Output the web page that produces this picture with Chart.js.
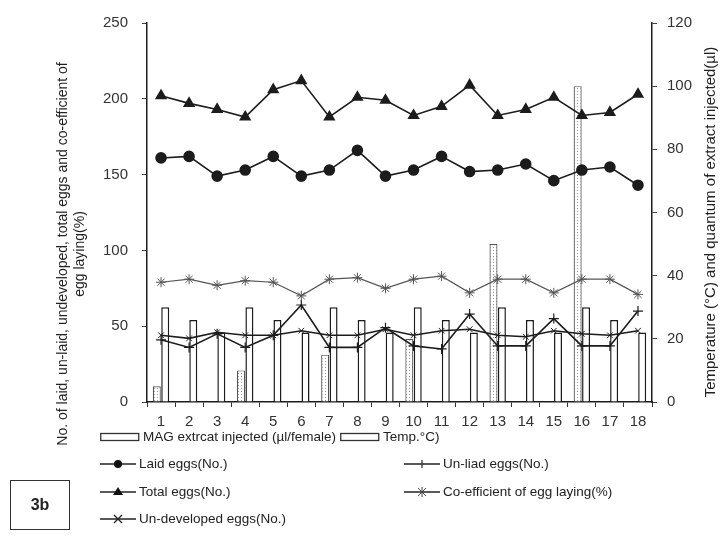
<!DOCTYPE html>
<html><head><meta charset="utf-8">
<script src="https://cdn.jsdelivr.net/npm/chart.js@4.4.0/dist/chart.umd.min.js"></script>
<style>
html,body{margin:0;padding:0;background:#fff;}
#wrap{position:relative;width:723px;height:536px;overflow:hidden;}
#c{position:absolute;left:0;top:0;}
.lg{position:absolute;font-family:"Liberation Sans",Arial,sans-serif;font-size:13.5px;color:#222;white-space:nowrap;height:20px;line-height:20px;}
.lg svg{position:absolute;left:0;top:0;}
.lg span{position:absolute;top:0;}
#box3b{position:absolute;left:10px;top:480px;width:60px;height:50px;border:1.5px solid #333;box-sizing:border-box;font-family:"Liberation Sans",Arial,sans-serif;font-weight:bold;font-size:16px;color:#222;text-align:center;line-height:47px;}
</style></head>
<body>
<div id="wrap">
<canvas id="c" width="723" height="536"></canvas>
<div id="legend"></div>
<div id="box3b">3b</div>
</div>
<script>
// ---- data ----
const categories = ['1','2','3','4','5','6','7','8','9','10','11','12','13','14','15','16','17','18'];
const magInjected = [5,null,null,10,null,null,15,null,null,20,null,null,50,null,null,100,null,null];
const temperature = [30,26,22,30,26,22,30,26,22,30,26,22,30,26,22,30,26,22];
const laidEggs = [161,162,149,153,162,149,153,166,149,153,162,152,153,157,146,153,155,143];
const unlaidEggs = [41,36,45,36,44,64,36,36,49,37,35,58,37,37,55,37,37,60];
const totalEggs = [202,197,193,188,206,212,188,201,199,189,195,209,189,193,201,189,191,203];
const coefficient = [79,81,77,80,79,70,81,82,75,81,83,72,81,81,72,81,81,71];
const undevelopedEggs = [44,42,46,44,44,47,44,44,48,44,47,48,44,43,47,45,44,47];
const leftTicks = [0,50,100,150,200,250];
const rightTicks = [0,20,40,60,80,100,120];
const seriesNames = {
  mag:'MAG extrcat injected (\u00b5l/female)',
  temp:'Temp.\u00b0C)',
  laid:'Laid eggs(No.)',
  unlaid:'Un-liad eggs(No.)',
  total:'Total eggs(No.)',
  coef:'Co-efficient of egg laying(%)',
  undev:'Un-developed eggs(No.)'
};
const leftTitle = ['No. of laid, un-laid, undeveloped, total eggs and co-efficient of','egg laying(%)'];
const rightTitle = 'Temperature (\u00b0C) and quantum of extract injected(\u00b5l)';

// ---- style ----
const FONT = '"Liberation Sans", Arial, sans-serif';
const INK = '#1c1c1c';
const pc = document.createElement('canvas'); pc.width = 3; pc.height = 3;
const px = pc.getContext('2d'); px.fillStyle = '#fff'; px.fillRect(0,0,3,3);
px.fillStyle = '#9a9a9a'; px.fillRect(1,1,1,1);
const ctx = document.getElementById('c').getContext('2d');
const dotted = ctx.createPattern(pc, 'repeat');

const PLOT_LEFT = 147, PLOT_RIGHT = 652, PLOT_BOTTOM = 402;

const titlePlugin = {
  id:'titles',
  afterDraw(chart){
    const c = chart.ctx;
    c.save();
    c.fillStyle = '#222';
    c.textAlign = 'center'; c.textBaseline = 'middle';
    c.font = '14px ' + FONT;
    c.translate(63, 254); c.rotate(-Math.PI/2);
    c.fillText(leftTitle[0], 0, 0);
    c.fillText(leftTitle[1], 0, 17);
    c.restore();
    c.save();
    c.fillStyle = '#222';
    c.textAlign = 'center'; c.textBaseline = 'middle';
    c.font = '15px ' + FONT;
    c.translate(711, 222); c.rotate(-Math.PI/2);
    c.fillText(rightTitle, 0, 0);
    c.restore();
  }
};

const lineBase = {type:'line', yAxisID:'y', borderColor:INK, borderWidth:1.6, tension:0, order:1, pointBorderColor:INK, pointBackgroundColor:INK};

new Chart(ctx, {
  type:'bar',
  data:{
    labels:categories,
    datasets:[
      {label:seriesNames.mag, data:magInjected, yAxisID:'y2', backgroundColor:dotted, borderColor:'#555', borderWidth:1.2, order:3, categoryPercentage:0.6, barPercentage:0.95},
      {label:seriesNames.temp, data:temperature, yAxisID:'y2', backgroundColor:'#fff', borderColor:INK, borderWidth:1.5, order:3, categoryPercentage:0.6, barPercentage:0.95},
      Object.assign({}, lineBase, {label:seriesNames.coef, data:coefficient, borderColor:'#555', borderWidth:1.2, pointStyle:'star', pointRadius:5, pointBorderColor:'#555', pointBorderWidth:1}),
      Object.assign({}, lineBase, {label:seriesNames.undev, data:undevelopedEggs, pointStyle:'crossRot', pointRadius:4, pointBorderWidth:1}),
      Object.assign({}, lineBase, {label:seriesNames.unlaid, data:unlaidEggs, pointStyle:'cross', pointRadius:5, pointBorderWidth:1.2}),
      Object.assign({}, lineBase, {label:seriesNames.laid, data:laidEggs, pointStyle:'circle', pointRadius:5}),
      Object.assign({}, lineBase, {label:seriesNames.total, data:totalEggs, pointStyle:'triangle', pointRadius:5.5})
    ]
  },
  options:{
    responsive:false, animation:false, devicePixelRatio:1,
    layout:{padding:{top:15,left:0,right:0,bottom:0}},
    plugins:{legend:{display:false}, tooltip:{enabled:false}},
    scales:{
      x:{
        offset:true,
        grid:{display:true, drawOnChartArea:false, offset:true, tickLength:5, color:'#333', lineWidth:1},
        border:{display:true, color:INK, width:1.5},
        ticks:{font:{family:FONT, size:15}, color:'#333', padding:6, maxRotation:0, autoSkip:false},
        afterFit(s){ s.height = 536 - PLOT_BOTTOM; }
      },
      y:{
        position:'left', min:0, max:250,
        afterBuildTicks(s){ s.ticks = leftTicks.map(v=>({value:v})); },
        grid:{display:true, drawOnChartArea:false, tickLength:5, color:'#444'},
        border:{display:true, color:INK, width:1.5},
        ticks:{font:{family:FONT, size:15}, color:'#333', padding:14},
        afterFit(s){ s.width = PLOT_LEFT; }
      },
      y2:{
        position:'right', min:0, max:120,
        afterBuildTicks(s){ s.ticks = rightTicks.map(v=>({value:v})); },
        grid:{display:true, drawOnChartArea:false, tickLength:5, color:'#444'},
        border:{display:true, color:INK, width:1.5},
        ticks:{font:{family:FONT, size:15}, color:'#333', padding:10},
        afterFit(s){ s.width = 723 - PLOT_RIGHT; }
      }
    }
  },
  plugins:[titlePlugin]
});

// ---- HTML legend ----
const legendItems = [
  {key:'mag', sym:'box', x:100, y:437},
  {key:'temp', sym:'box', x:340, y:437},
  {key:'laid', sym:'circle', x:100, y:464},
  {key:'unlaid', sym:'plus', x:404, y:464},
  {key:'total', sym:'tri', x:100, y:492},
  {key:'coef', sym:'star', x:404, y:492},
  {key:'undev', sym:'x', x:100, y:519}
];
function symSvg(sym, w){
  const m = w/2;
  let s = '';
  if (sym==='box') {
    s = `<rect x="0.75" y="6.5" width="${w-2}" height="7" fill="#fff" stroke="#333" stroke-width="1.3"/>`;
  } else {
    s = `<line x1="0" y1="10" x2="${w}" y2="10" stroke="#222" stroke-width="1.5"/>`;
    if (sym==='circle') s += `<circle cx="${m}" cy="10" r="4" fill="#111"/>`;
    if (sym==='tri') s += `<polygon points="${m},5 ${m+5},13 ${m-5},13" fill="#111"/>`;
    if (sym==='plus') s += `<line x1="${m}" y1="6" x2="${m}" y2="14" stroke="#222" stroke-width="1.2"/>`;
    if (sym==='x') s += `<line x1="${m-4}" y1="6" x2="${m+4}" y2="14" stroke="#222" stroke-width="1.2"/><line x1="${m-4}" y1="14" x2="${m+4}" y2="6" stroke="#222" stroke-width="1.2"/>`;
    if (sym==='star') s += `<line x1="${m-4}" y1="6" x2="${m+4}" y2="14" stroke="#444" stroke-width="1"/><line x1="${m-4}" y1="14" x2="${m+4}" y2="6" stroke="#444" stroke-width="1"/><line x1="${m}" y1="5" x2="${m}" y2="15" stroke="#444" stroke-width="1"/>`;
  }
  return `<svg width="${w}" height="20" viewBox="0 0 ${w} 20">${s}</svg>`;
}
const lg = document.getElementById('legend');
legendItems.forEach(it=>{
  const w = it.sym==='box' ? 40 : 36;
  const d = document.createElement('div');
  d.className = 'lg';
  d.style.left = it.x + 'px';
  d.style.top = (it.y - 10) + 'px';
  d.innerHTML = symSvg(it.sym, w) + `<span style="left:${w+3}px">${seriesNames[it.key]}</span>`;
  lg.appendChild(d);
});
</script>
</body></html>
